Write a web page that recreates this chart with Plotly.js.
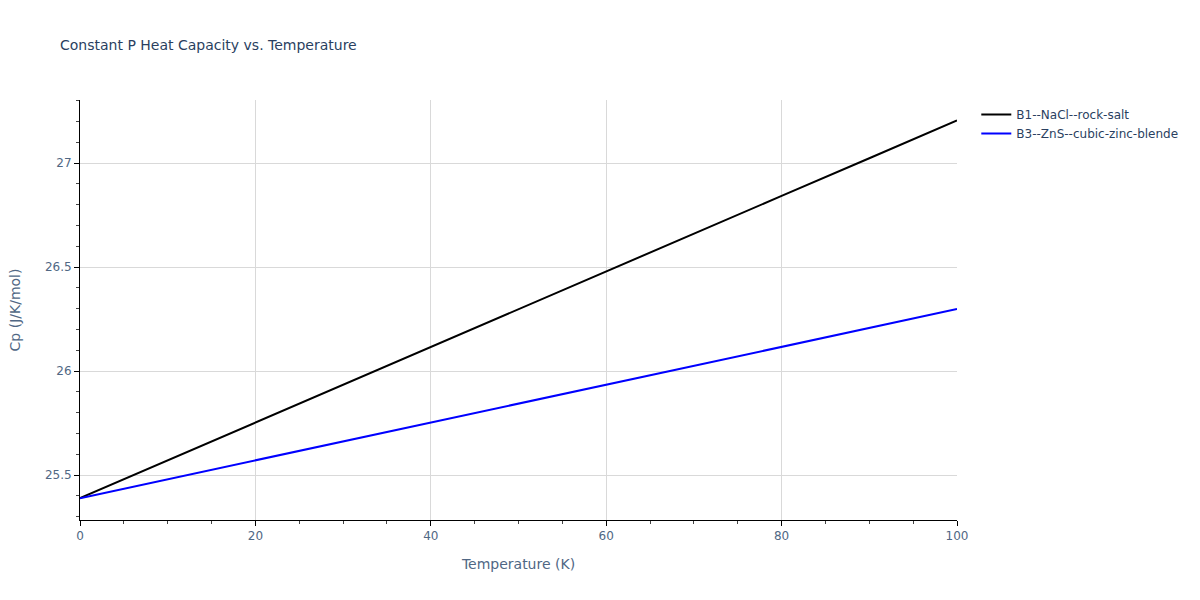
<!DOCTYPE html>
<html>
<head>
<meta charset="utf-8">
<script src="https://cdn.plot.ly/plotly-3.0.1.min.js"></script>
<style>body{margin:0;padding:0;}#chart{width:1200px;height:600px;}</style>
</head>
<body>
<div id="chart"></div>
<script>
const temperature = [0, 10, 20, 30, 40, 50, 60, 70, 80, 90, 100];
const cpRockSalt = [25.389, 25.571, 25.752, 25.934, 26.115, 26.297, 26.479, 26.660, 26.842, 27.023, 27.205];
const cpZincBlende = [25.389, 25.480, 25.571, 25.662, 25.753, 25.844, 25.934, 26.025, 26.116, 26.207, 26.298];
const seriesNames = ["B1--NaCl--rock-salt", "B3--ZnS--cubic-zinc-blende"];

const traces = [
  {x: temperature, y: cpRockSalt, name: seriesNames[0], type: "scatter", mode: "lines", line: {color: "black", width: 2}},
  {x: temperature, y: cpZincBlende, name: seriesNames[1], type: "scatter", mode: "lines", line: {color: "blue", width: 2}}
];

const textColor = "#2a3f5f";
const axisColor = "#506784";
const fontFam = "DejaVu Sans, Verdana, sans-serif";

const axisCommon = {
  showline: true, linecolor: "black", linewidth: 1,
  ticks: "outside", tickcolor: "black", ticklen: 5,
  gridcolor: "#d9d9d9", zeroline: false,
  tickfont: {color: axisColor, size: 12}
};

const layout = {
  width: 1200, height: 600,
  paper_bgcolor: "white", plot_bgcolor: "white",
  font: {family: fontFam, color: textColor, size: 12},
  title: {text: "Constant P Heat Capacity vs. Temperature", x: 0.05, xanchor: "left", y: 0.925, yanchor: "middle", font: {size: 14, color: textColor, family: fontFam}},
  margin: {l: 80, r: 243, t: 100, b: 80},
  xaxis: Object.assign({}, axisCommon, {range: [0, 100], dtick: 20, minor: {ticks: "outside", ticklen: 3, tickcolor: "#444", dtick: 5, showgrid: false}, title: {text: "Temperature (K)", standoff: 16, font: {color: axisColor, size: 14, family: fontFam}}}),
  yaxis: Object.assign({}, axisCommon, {range: [25.284, 27.303], dtick: 0.5, minor: {ticks: "outside", ticklen: 3, tickcolor: "#444", dtick: 0.1, showgrid: false}, title: {text: "Cp (J/K/mol)", standoff: 20, font: {color: axisColor, size: 14, family: fontFam}}}),
  legend: {x: 1.022, y: 1, xanchor: "left", yanchor: "top", font: {size: 12, color: textColor, family: fontFam}},
  showlegend: true
};

Plotly.newPlot("chart", traces, layout, {displayModeBar: false});
</script>
</body>
</html>
